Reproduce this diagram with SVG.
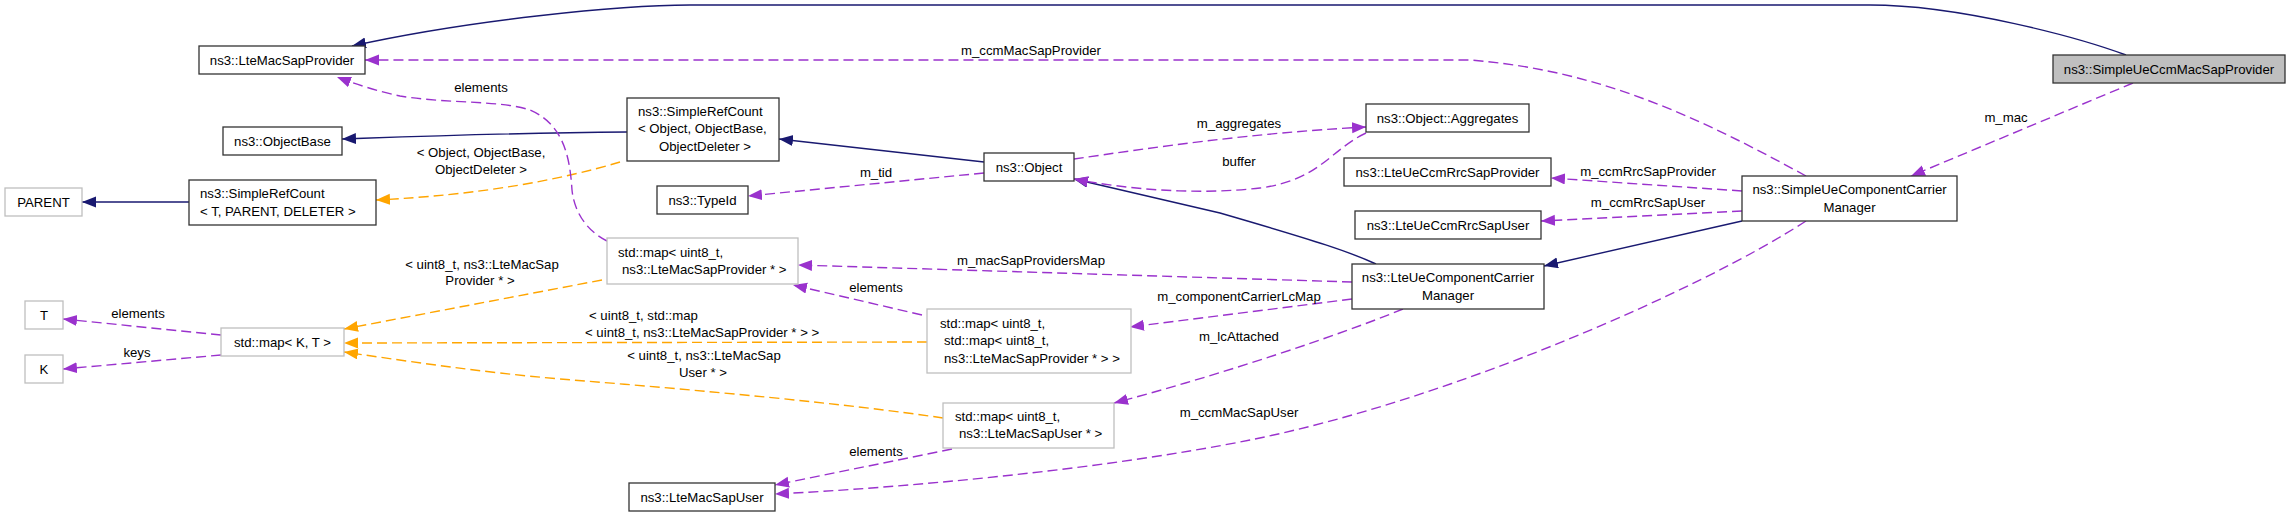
<svg xmlns="http://www.w3.org/2000/svg" width="2291" height="517" viewBox="0 0 2291 517">
<style>
text{font-family:"Liberation Sans",Arial,Helvetica,sans-serif;font-size:13.2px;fill:#000}
.m{text-anchor:middle}
.nb{fill:#fff;stroke:#333;stroke-width:1.3}
.ng{fill:#fff;stroke:#bfbfbf;stroke-width:1.3}
.root{fill:#bfbfbf;stroke:#333;stroke-width:1.3}
.e{fill:none;stroke-width:1.4}
.inh{stroke:#191970;marker-end:url(#an)}
.use{stroke:#9a32cd;stroke-dasharray:10,5;marker-end:url(#ap)}
.tpl{stroke:#ffa500;stroke-dasharray:10,5;marker-end:url(#ao)}
</style>
<defs>
<marker id="an" markerUnits="userSpaceOnUse" markerWidth="16" markerHeight="12" viewBox="0 0 16 12" refX="14" refY="5.5" orient="auto"><path d="M0,0 L14,5.5 L0,11 z" fill="#191970"/></marker>
<marker id="ap" markerUnits="userSpaceOnUse" markerWidth="16" markerHeight="12" viewBox="0 0 16 12" refX="14" refY="5.5" orient="auto"><path d="M0,0 L14,5.5 L0,11 z" fill="#9a32cd"/></marker>
<marker id="ao" markerUnits="userSpaceOnUse" markerWidth="16" markerHeight="12" viewBox="0 0 16 12" refX="14" refY="5.5" orient="auto"><path d="M0,0 L14,5.5 L0,11 z" fill="#ffa500"/></marker>
</defs>
<rect width="2291" height="517" fill="#fff"/>
<g id="edges">
<path class="e inh" d="M2126,55 C2080,38 1960,5 1870,5 L690,5 C620,5 470,20 352,46"/>
<path class="e inh" d="M984,162 L779,139"/>
<path class="e inh" d="M627,132 C500,133 400,137 342,139"/>
<path class="e inh" d="M189,202 L82,202"/>
<path class="e tpl" d="M620,162 C560,180 480,195 376,200"/>
<path class="e inh" d="M1376,264 C1350,252 1320,242 1220,213 L1074,179"/>
<path class="e inh" d="M1742,221 L1544,266"/>
<path class="e use" d="M984,173 L748,196"/>
<path class="e use" d="M1074,159 C1150,148 1250,133 1366,127"/>
<path class="e use" d="M1366,133 C1330,150 1320,180 1260,188 C1200,195 1130,190 1074,179"/>
<path class="e use" d="M1806,176 C1700,118 1600,70 1470,60 L365,60"/>
<path class="e use" d="M1742,191 L1551,178"/>
<path class="e use" d="M1742,211 L1541,221"/>
<path class="e use" d="M2133,83 L1911,176"/>
<path class="e use" d="M1806,221 C1700,290 1450,400 1250,440 C1100,470 900,488 775,494"/>
<path class="e use" d="M1352,282 L798,265"/>
<path class="e use" d="M1352,299 L1130,327"/>
<path class="e use" d="M1403,309 C1340,335 1220,375 1114,403"/>
<path class="e use" d="M607,241 C585,230 574,210 572,190 C570,160 565,125 530,110 C500,100 450,104 400,96 C380,92 355,84 337,77"/>
<path class="e use" d="M922,315 L793,285"/>
<path class="e use" d="M952,449 L775,485"/>
<path class="e tpl" d="M602,280 L344,329"/>
<path class="e tpl" d="M927,342 L344,343"/>
<path class="e tpl" d="M943,418 C850,404 700,390 560,379 C480,372 420,363 344,352"/>
<path class="e use" d="M221,335 L63,319"/>
<path class="e use" d="M221,355 L63,369"/>
<text class="m" x="1031" y="55">m_ccmMacSapProvider</text>
<text class="m" x="481" y="91.5">elements</text>
<text class="m" x="481" y="156.5">&lt; Object, ObjectBase,</text>
<text class="m" x="481" y="173.5">ObjectDeleter &gt;</text>
<text class="m" x="876" y="176.5">m_tid</text>
<text class="m" x="1239" y="127.5">m_aggregates</text>
<text class="m" x="1239" y="165.5">buffer</text>
<text class="m" x="1648" y="176">m_ccmRrcSapProvider</text>
<text class="m" x="1648" y="207">m_ccmRrcSapUser</text>
<text class="m" x="2006" y="121.5">m_mac</text>
<text class="m" x="1031" y="264.5">m_macSapProvidersMap</text>
<text class="m" x="876" y="292">elements</text>
<text class="m" x="1239" y="300.5">m_componentCarrierLcMap</text>
<text class="m" x="1239" y="340.5">m_lcAttached</text>
<text class="m" x="1239" y="417">m_ccmMacSapUser</text>
<text class="m" x="876" y="455.5">elements</text>
<text class="m" x="482" y="268.5">&lt; uint8_t, ns3::LteMacSap</text>
<text class="m" x="480" y="285">Provider * &gt;</text>
<text x="589" y="319.5">&lt; uint8_t, std::map</text>
<text x="585" y="336.5">&lt; uint8_t, ns3::LteMacSapProvider * &gt; &gt;</text>
<text class="m" x="704" y="359.5">&lt; uint8_t, ns3::LteMacSap</text>
<text class="m" x="703" y="376.5">User * &gt;</text>
<text class="m" x="138" y="317.5">elements</text>
<text class="m" x="137" y="357">keys</text>
</g>
<g id="n_root"><rect class="root" x="2053" y="55" width="232" height="28"/><text class="m" x="2169" y="73.6">ns3::SimpleUeCcmMacSapProvider</text></g>
<g id="n_LteMacSapProvider"><rect class="nb" x="199" y="46" width="166" height="28"/><text class="m" x="282" y="64.6">ns3::LteMacSapProvider</text></g>
<g id="n_ObjectBase"><rect class="nb" x="223" y="127" width="119" height="28"/><text class="m" x="282.5" y="145.6">ns3::ObjectBase</text></g>
<g id="n_PARENT"><rect class="ng" x="5" y="188" width="77" height="28"/><text class="m" x="43.5" y="206.6">PARENT</text></g>
<g id="n_SimpleRefCountT"><rect class="nb" x="189" y="180" width="187" height="45"/><text x="200" y="197.5">ns3::SimpleRefCount</text><text x="200" y="215.5">&lt; T, PARENT, DELETER &gt;</text></g>
<g id="n_SimpleRefCountObject"><rect class="nb" x="627" y="98" width="152" height="63"/><text x="638" y="115.5">ns3::SimpleRefCount</text><text x="638" y="132.5">&lt; Object, ObjectBase,</text><text x="659" y="150.5">ObjectDeleter &gt;</text></g>
<g id="n_Object"><rect class="nb" x="984" y="153" width="90" height="28"/><text class="m" x="1029" y="171.6">ns3::Object</text></g>
<g id="n_TypeId"><rect class="nb" x="657" y="186" width="91" height="28"/><text class="m" x="702.5" y="204.6">ns3::TypeId</text></g>
<g id="n_Aggregates"><rect class="nb" x="1366" y="104" width="163" height="28"/><text class="m" x="1447.5" y="122.6">ns3::Object::Aggregates</text></g>
<g id="n_RrcSapProvider"><rect class="nb" x="1344" y="158" width="207" height="28"/><text class="m" x="1447.5" y="176.6">ns3::LteUeCcmRrcSapProvider</text></g>
<g id="n_RrcSapUser"><rect class="nb" x="1355" y="211" width="186" height="28"/><text class="m" x="1448" y="229.6">ns3::LteUeCcmRrcSapUser</text></g>
<g id="n_SimpleUeCCM"><rect class="nb" x="1742" y="176" width="215" height="45"/><text class="m" x="1849.5" y="193.5">ns3::SimpleUeComponentCarrier</text><text class="m" x="1849.5" y="211.5">Manager</text></g>
<g id="n_LteUeCCM"><rect class="nb" x="1352" y="264" width="192" height="45"/><text class="m" x="1448" y="281.5">ns3::LteUeComponentCarrier</text><text class="m" x="1448" y="299.5">Manager</text></g>
<g id="n_mapProvider"><rect class="ng" x="607" y="238" width="191" height="46"/><text x="618" y="256.8">std::map&lt; uint8_t,</text><text x="622" y="273.5">ns3::LteMacSapProvider * &gt;</text></g>
<g id="n_mapMap"><rect class="ng" x="927" y="309" width="204" height="64"/><text x="940" y="327.5">std::map&lt; uint8_t,</text><text x="944" y="344.5">std::map&lt; uint8_t,</text><text x="944" y="362.5">ns3::LteMacSapProvider * &gt; &gt;</text></g>
<g id="n_mapUser"><rect class="ng" x="943" y="403" width="171" height="45"/><text x="955" y="420.5">std::map&lt; uint8_t,</text><text x="959" y="437.5">ns3::LteMacSapUser * &gt;</text></g>
<g id="n_LteMacSapUser"><rect class="nb" x="629" y="483" width="146" height="28"/><text class="m" x="702" y="501.6">ns3::LteMacSapUser</text></g>
<g id="n_mapKT"><rect class="ng" x="221" y="328" width="123" height="28"/><text class="m" x="282.5" y="346.6">std::map&lt; K, T &gt;</text></g>
<g id="n_T"><rect class="ng" x="25" y="301" width="38" height="28"/><text class="m" x="44" y="319.6">T</text></g>
<g id="n_K"><rect class="ng" x="25" y="355" width="38" height="28"/><text class="m" x="44" y="373.6">K</text></g>
</svg>
